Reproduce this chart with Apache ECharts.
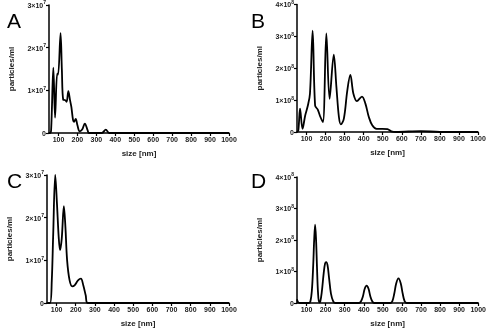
<!DOCTYPE html>
<html>
<head>
<meta charset="utf-8">
<script src="https://cdn.jsdelivr.net/npm/echarts@6/dist/echarts.min.js"></script>
<style>
html,body{margin:0;padding:0;background:#fff;}
#chart{width:489px;height:329px;}
</style>
</head>
<body>
<div id="chart"></div>
<script>
// size [nm] and particles/ml
var sizeA = [50, 54, 61, 73, 82, 93, 98, 111, 118, 125, 136, 143, 152, 161, 168, 177, 182, 191, 200, 212, 225, 239, 254, 261, 329, 350, 368, 1000];
var valA  = [0, 0, 0.06, 1.53, 0.36, 1.39, 1.37, 2.34, 1.47, 0.78, 0.77, 0.73, 0.98, 0.77, 0.61, 0.30, 0.26, 0.33, 0.18, 0.04, 0.08, 0.22, 0.06, 0, 0, 0.08, 0, 0];

var sizeB = [50, 57, 66, 79, 93, 107, 118, 132, 145, 159, 173, 186, 204, 221, 243, 257, 270, 280, 296, 314, 330, 346, 364, 391, 409, 427, 445, 468, 498, 525, 545, 570, 700, 800, 1000];
var valB  = [0, 0.05, 0.73, 0.10, 0.52, 0.83, 1.2, 3.18, 0.83, 0.70, 0.47, 0.31, 3.09, 1.04, 2.43, 1.4, 0.47, 0.24, 0.42, 1.3, 1.79, 1.2, 0.97, 1.11, 0.89, 0.47, 0.21, 0.10, 0.10, 0.09, 0.02, 0, 0.03, 0, 0];

var sizeC = [50, 66, 75, 82, 93, 102, 111, 118, 127, 138, 146, 155, 168, 182, 195, 212, 227, 239, 252, 262, 1000];
var valC  = [0, 0, 0.53, 1.55, 3.0, 2.33, 1.55, 1.24, 1.51, 2.27, 1.79, 1.0, 0.53, 0.39, 0.42, 0.53, 0.57, 0.42, 0.18, 0, 0];

var sizeD = [50, 55, 65, 110, 120, 128, 135, 140, 145, 150, 155, 160, 166, 172, 180, 190, 197, 203, 210, 218, 228, 240, 250, 375, 385, 395, 405, 415, 425, 435, 445, 455, 540, 550, 560, 570, 582, 594, 604, 614, 625, 1000];
var valD  = [0.12, 0.03, 0, 0, 0.05, 0.4, 1.2, 2.0, 2.49, 2.0, 1.1, 0.35, 0.02, 0.05, 0.35, 0.95, 1.25, 1.30, 1.2, 0.8, 0.3, 0.05, 0, 0, 0.05, 0.2, 0.45, 0.55, 0.45, 0.2, 0.05, 0, 0, 0.06, 0.3, 0.62, 0.78, 0.62, 0.3, 0.06, 0, 0];

var xTicks = [100, 200, 300, 400, 500, 600, 700, 800, 900, 1000];
var panels = [
  {letter: 'A', x: sizeA, y: valA, exp: 7, max: 3},
  {letter: 'B', x: sizeB, y: valB, exp: 8, max: 4},
  {letter: 'C', x: sizeC, y: valC, exp: 7, max: 3},
  {letter: 'D', x: sizeD, y: valD, exp: 8, max: 4}
];

var grids = [
  {left: 49, top: 5, width: 180, height: 128},
  {left: 297, top: 4, width: 181, height: 128},
  {left: 47, top: 175, width: 182, height: 128},
  {left: 297, top: 177, width: 182, height: 126}
];
var letterPos = [[2, 7], [246, 7], [2, 167], [246, 167]];

var font = 'Liberation Sans, Arial, sans-serif';
var xAxes = [], yAxes = [], series = [], titles = [];

panels.forEach(function (p, i) {
  var scale = Math.pow(10, p.exp);
  xAxes.push({
    type: 'value', gridIndex: i, min: 50, max: 1000,
    name: 'size [nm]', nameLocation: 'middle', nameGap: 17,
    nameTextStyle: {color: '#222', fontSize: 8, fontWeight: 'bold', fontFamily: font},
    axisLine: {onZero: false, lineStyle: {color: '#000', width: 1.5}},
    axisTick: {show: true, length: 3, customValues: xTicks, lineStyle: {color: '#000', width: 1.2}},
    axisLabel: {
      customValues: xTicks, margin: 4, color: '#222', fontSize: 7, fontWeight: 'bold', fontFamily: font,
      formatter: function (v) { return String(v); }
    },
    splitLine: {show: false}
  });
  yAxes.push({
    type: 'value', gridIndex: i, min: 0, max: p.max * scale, interval: scale,
    name: 'particles/ml', nameLocation: 'middle', nameGap: 33,
    nameTextStyle: {color: '#222', fontSize: 8, fontWeight: 'bold', fontFamily: font},
    axisLine: {show: true, lineStyle: {color: '#000', width: 1.5}},
    axisTick: {show: true, length: 3, lineStyle: {color: '#000', width: 1.2}},
    axisLabel: {
      margin: 3, color: '#222', fontFamily: font,
      formatter: function (v) {
        if (v === 0) return '{b|0}';
        return '{b|' + Math.round(v / scale) + '×10}{s|' + p.exp + '}';
      },
      rich: {
        b: {fontSize: 7, fontWeight: 'bold', color: '#222', fontFamily: font, lineHeight: 9, verticalAlign: 'bottom'},
        s: {fontSize: 5, fontWeight: 'bold', color: '#222', fontFamily: font, lineHeight: 9, verticalAlign: 'top'}
      }
    },
    splitLine: {show: false}
  });
  series.push({
    type: 'line', xAxisIndex: i, yAxisIndex: i,
    data: p.x.map(function (s, k) { return [s, p.y[k] * scale]; }),
    showSymbol: false, smooth: 0.35, clip: true,
    lineStyle: {color: '#000', width: 1.8},
    silent: true, animation: false
  });
  titles.push({
    text: p.letter, left: letterPos[i][0], top: letterPos[i][1],
    textStyle: {fontSize: 21, fontWeight: 'normal', color: '#000', fontFamily: font}
  });
});

var myChart = echarts.init(document.getElementById('chart'));
myChart.setOption({
  animation: false,
  backgroundColor: '#fff',
  title: titles,
  grid: grids,
  xAxis: xAxes,
  yAxis: yAxes,
  series: series
});
</script>
</body>
</html>
